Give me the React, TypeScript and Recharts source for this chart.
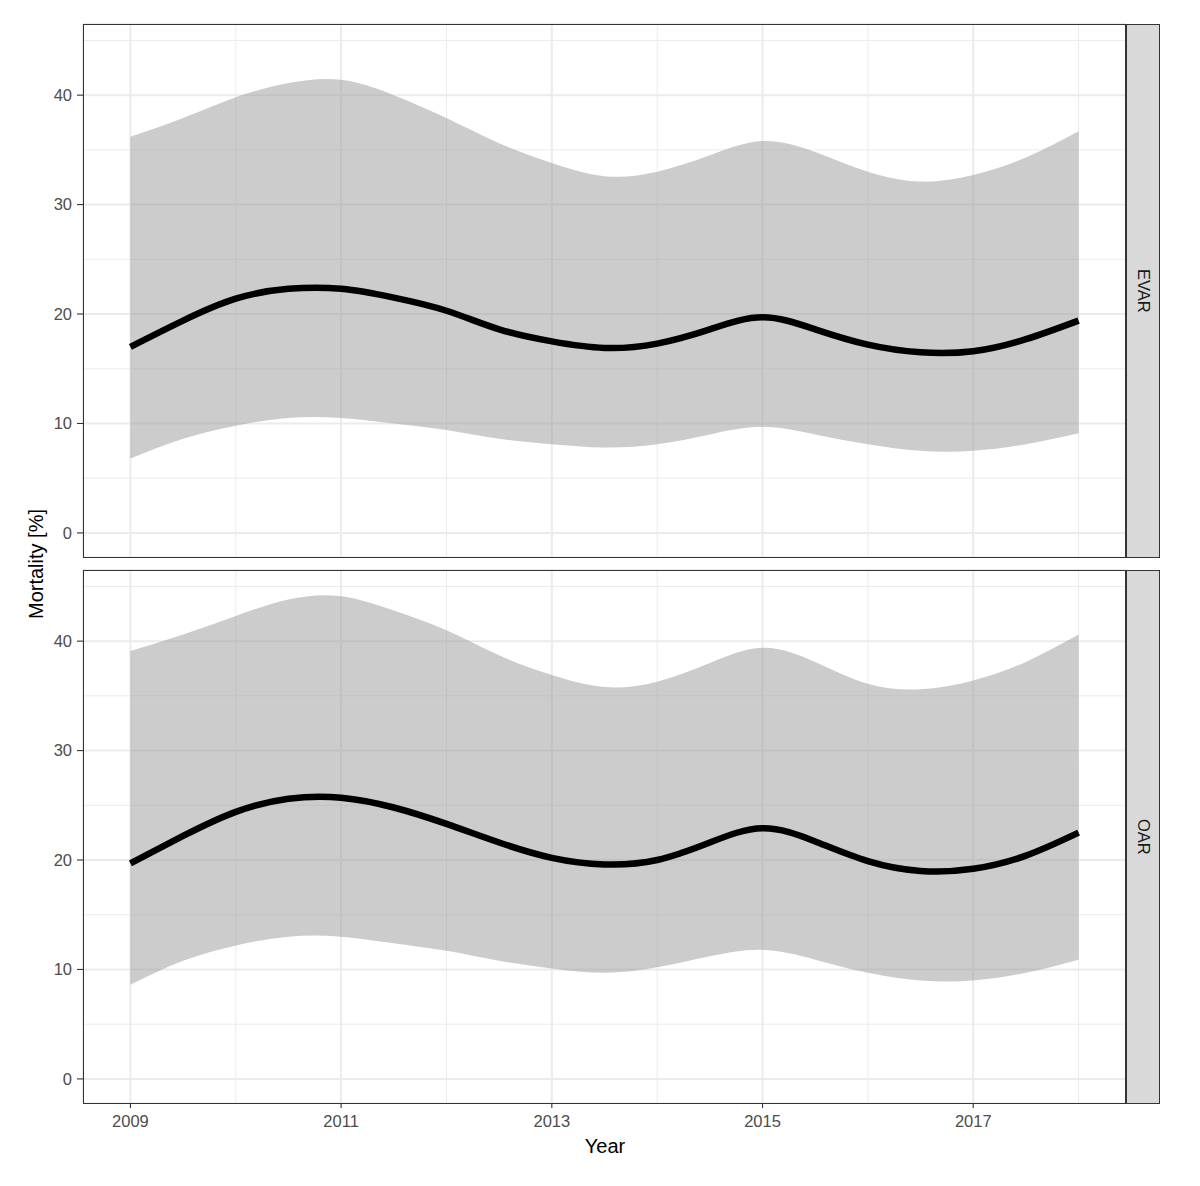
import React from 'react';
import { ComposedChart, Area, Line, XAxis, YAxis, CartesianGrid } from 'recharts';

// years sampled every half year
const YEARS = [
  2009, 2009.5, 2010, 2010.5, 2011, 2011.5, 2012, 2012.5, 2013, 2013.5,
  2014, 2014.5, 2015, 2015.5, 2016, 2016.5, 2017, 2017.5, 2018,
];

const EVAR_FIT = [17.0, 19.4, 21.4, 22.3, 22.3, 21.5, 20.3, 18.6, 17.5, 16.9, 17.3, 18.6, 19.7, 18.6, 17.2, 16.5, 16.6, 17.7, 19.4];
const EVAR_UPPER = [36.2, 37.9, 39.8, 41.1, 41.4, 40.0, 37.9, 35.6, 33.8, 32.6, 33.0, 34.5, 35.8, 34.8, 33.0, 32.1, 32.7, 34.3, 36.7];
const EVAR_LOWER = [6.8, 8.6, 9.8, 10.5, 10.5, 10.0, 9.4, 8.6, 8.1, 7.8, 8.1, 9.0, 9.7, 9.0, 8.1, 7.5, 7.5, 8.1, 9.1];

const OAR_FIT = [19.7, 22.2, 24.4, 25.6, 25.7, 24.8, 23.3, 21.6, 20.2, 19.6, 20.0, 21.6, 22.9, 21.7, 19.9, 19.0, 19.2, 20.4, 22.5];
const OAR_UPPER = [39.1, 40.6, 42.3, 43.8, 44.1, 42.8, 41.0, 38.7, 36.9, 35.8, 36.3, 38.0, 39.4, 38.1, 36.1, 35.6, 36.4, 38.1, 40.6];
const OAR_LOWER = [8.6, 10.8, 12.2, 13.0, 13.0, 12.4, 11.7, 10.8, 10.1, 9.7, 10.2, 11.2, 11.8, 10.9, 9.7, 9.0, 9.0, 9.7, 10.9];

// major + minor breaks (every other one is major)
const X_TICKS = [2009, 2010, 2011, 2012, 2013, 2014, 2015, 2016, 2017, 2018];
const Y_TICKS = [0, 5, 10, 15, 20, 25, 30, 35, 40, 45];

const TICK_SIZE = 6;
const TICK_MARGIN = 4;
const FONT = '"Liberation Sans", Arial, Helvetica, sans-serif';
const TICK_FONT = 16.5;

const makeRows = (fit: number[], lo: number[], hi: number[]) =>
  YEARS.map((year, i) => ({ year, fit: fit[i], band: [lo[i], hi[i]] }));

const YTick = (props: any) => {
  const { x, y, payload } = props;
  if (payload.value % 10 !== 0) return null;
  return (
    <g>
      <line x1={x + TICK_MARGIN} x2={x + TICK_MARGIN + TICK_SIZE} y1={y} y2={y} stroke="#333333" strokeWidth={1.1} />
      <text x={x - 1} y={y} dy={5.9} textAnchor="end" fill="#4d4d4d" fontSize={TICK_FONT} fontFamily={FONT}>
        {payload.value}
      </text>
    </g>
  );
};

const XTick = (props: any) => {
  const { x, y, payload } = props;
  if ((payload.value - 2009) % 2 !== 0) return null;
  const top = y - TICK_MARGIN - TICK_SIZE;
  return (
    <g>
      <line x1={x} x2={x} y1={top} y2={top + TICK_SIZE - 1} stroke="#333333" strokeWidth={1.1} />
      <text x={x} y={y} dy={14} textAnchor="middle" fill="#4d4d4d" fontSize={TICK_FONT} fontFamily={FONT}>
        {payload.value}
      </text>
    </g>
  );
};

const gridLine = (horizontal: boolean) => (props: any) => {
  const major = props.index % 2 === 0;
  return (
    <line
      key={`${horizontal ? 'h' : 'v'}-${props.index}`}
      x1={props.x1}
      y1={props.y1}
      x2={props.x2}
      y2={props.y2}
      stroke="#ebebeb"
      strokeWidth={major ? 2 : 1}
    />
  );
};

interface PanelProps {
  rows: { year: number; fit: number; band: number[] }[];
  label: string;
  top: number;
  showX: boolean;
}

const Panel: React.FC<PanelProps> = ({ rows, label, top, showX }) => {
  const height = showX ? 626 : 560;
  const plotTop = showX ? 10 : 24;
  const plotH = 533;
  return (
    <div style={{ position: 'absolute', left: 0, top, width: 1200, height }}>
      <ComposedChart
        width={1200}
        height={height}
        data={rows}
        margin={{ top: plotTop, right: 74, bottom: height - plotTop - plotH - (showX ? 40 : 0), left: 0 }}
      >
        <CartesianGrid horizontal={gridLine(true)} vertical={gridLine(false)} />
        <XAxis
          dataKey="year"
          type="number"
          domain={[2008.55, 2018.45]}
          ticks={X_TICKS}
          interval={0}
          hide={!showX}
          height={40}
          axisLine={false}
          tickLine={false}
          tickSize={TICK_SIZE}
          tickMargin={TICK_MARGIN}
          tick={<XTick />}
        />
        <YAxis
          type="number"
          domain={[-2.2, 46.5]}
          ticks={Y_TICKS}
          interval={0}
          width={83}
          axisLine={false}
          tickLine={false}
          tickSize={TICK_SIZE}
          tickMargin={TICK_MARGIN}
          tick={<YTick />}
          allowDataOverflow
        />
        <Area
          dataKey="band"
          type="natural"
          fill="#999999"
          fillOpacity={0.5}
          stroke="none"
          isAnimationActive={false}
        />
        <Line
          dataKey="fit"
          type="natural"
          stroke="#000000"
          strokeWidth={6.5}
          dot={false}
          isAnimationActive={false}
        />
      </ComposedChart>
      <div
        style={{
          position: 'absolute',
          left: 83,
          top: plotTop,
          width: 1043,
          height: plotH + 1,
          border: '1px solid #333333',
          boxSizing: 'border-box',
          pointerEvents: 'none',
        }}
      />
      <div
        style={{
          position: 'absolute',
          left: 1126,
          top: plotTop,
          width: 34,
          height: plotH + 1,
          background: '#d9d9d9',
          border: '1px solid #333333',
          boxSizing: 'border-box',
          display: 'flex',
          alignItems: 'center',
          justifyContent: 'center',
        }}
      >
        <span style={{ writingMode: 'vertical-rl', fontFamily: FONT, fontSize: 16.5, color: '#1a1a1a' }}>{label}</span>
      </div>
    </div>
  );
};

export default function App() {
  const evar = makeRows(EVAR_FIT, EVAR_LOWER, EVAR_UPPER);
  const oar = makeRows(OAR_FIT, OAR_LOWER, OAR_UPPER);
  return (
    <div style={{ position: 'absolute', left: 0, top: 0, width: 1200, height: 1186, background: '#ffffff' }}>
      <Panel rows={evar} label="EVAR" top={0} showX={false} />
      <Panel rows={oar} label="OAR" top={560} showX />
      <div
        style={{
          position: 'absolute',
          left: 36,
          top: 564,
          transform: 'translate(-50%, -50%) rotate(-90deg)',
          fontFamily: FONT,
          fontSize: 20,
          color: '#000000',
          whiteSpace: 'nowrap',
        }}
      >
        Mortality [%]
      </div>
      <div
        style={{
          position: 'absolute',
          left: 605,
          top: 1146,
          transform: 'translate(-50%, -50%)',
          fontFamily: FONT,
          fontSize: 20,
          color: '#000000',
        }}
      >
        Year
      </div>
    </div>
  );
}
